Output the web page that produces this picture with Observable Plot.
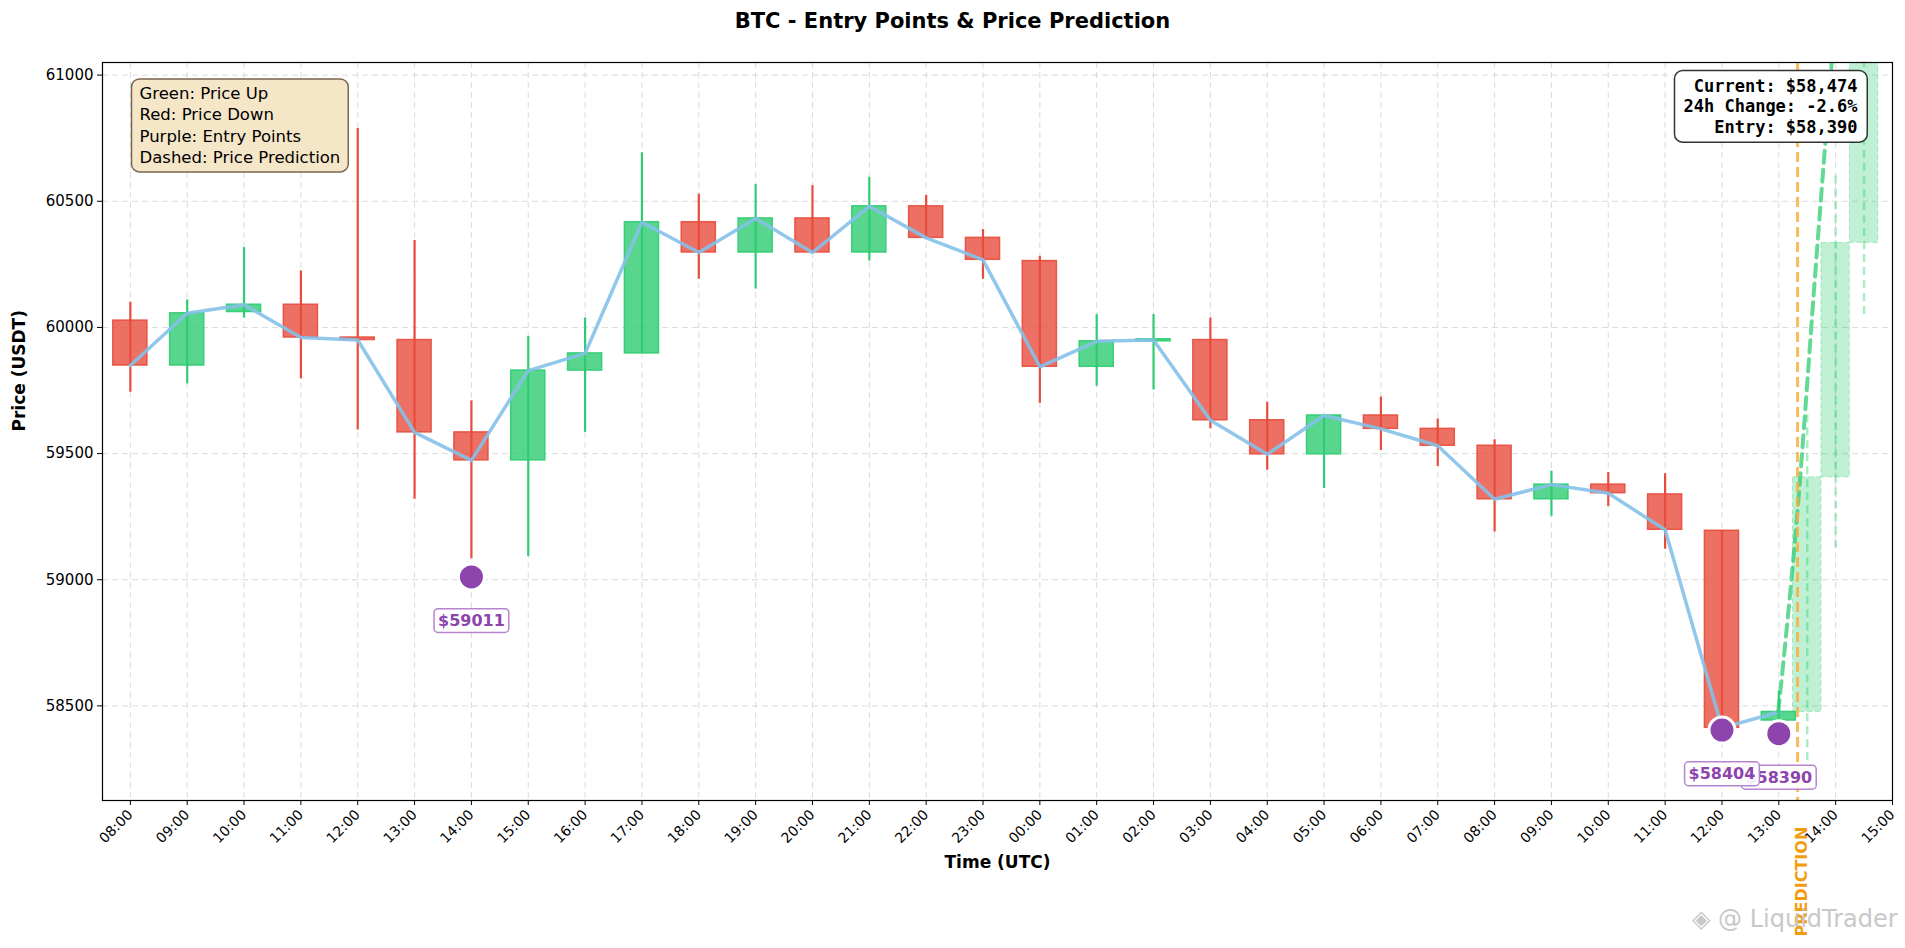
<!DOCTYPE html>
<html><head><meta charset="utf-8">
<script src="https://cdn.jsdelivr.net/npm/d3@7"></script>
<script src="https://cdn.jsdelivr.net/npm/@observablehq/plot@0.6"></script>
<style>
body{margin:0;background:#fff;font-family:"DejaVu Sans",sans-serif;}
#wrap{position:relative;width:1905px;height:948px;}
#title{position:absolute;top:9px;left:0;width:1905px;text-align:center;font-weight:bold;font-size:21px;color:#000;}
#wm{position:absolute;left:1692px;top:905px;font-size:24px;color:#c8c8c8;}
</style></head><body>
<div id="wrap"><div id="title">BTC - Entry Points &amp; Price Prediction</div><div id="chart"></div><div id="wm">◈ @ LiquidTrader</div></div>
<script>
const timeLabels = ["08:00","09:00","10:00","11:00","12:00","13:00","14:00","15:00","16:00","17:00","18:00","19:00","20:00","21:00","22:00","23:00","00:00","01:00","02:00","03:00","04:00","05:00","06:00","07:00","08:00","09:00","10:00","11:00","12:00","13:00","14:00","15:00"];
const opens  = [60027,59849,60061,60090,59960,59950,59584,59473,59829,59897,60417,60297,60432,60297,60480,60355,60263,59844,59945,59950,59632,59497,59651,59598,59531,59319,59377,59338,59194,58442];
const closes = [59849,60056,60090,59960,59950,59584,59473,59829,59897,60417,60297,60432,60297,60480,60355,60268,59844,59945,59950,59632,59497,59651,59598,59531,59319,59377,59343,59198,58413,58476];
const highs  = [60100,60109,60316,60224,60788,60345,59709,59964,60037,60692,60528,60566,60562,60595,60523,60388,60282,60051,60051,60037,59704,59651,59724,59637,59555,59430,59425,59420,59194,58558];
const lows   = [59743,59776,60037,59796,59593,59319,59083,59092,59584,59897,60191,60152,60297,60263,60355,60191,59699,59767,59752,59598,59434,59362,59512,59449,59189,59251,59290,59121,58413,58442];
const predX = [29.5,30.0,30.5];
const predOpen = [58476,59406,60335];
const predClose = [59406,60335,61300];
const predHigh = [59666,60620,61300];
const predLow = [58283,59126,60051];
const predLineX = [28.99,29.31,29.68,29.93,30.1];
const predLineY = [58476,59223,60330,61048,61500];
const entryX = [6,28,29];
const entryY = [59011,58404,58390];
const predictionStart = 29.33;

const candles = opens.map((o,i)=>({i,o,c:closes[i],h:highs[i],l:lows[i],up:closes[i]>=o}));
const preds = predX.map((x,i)=>({x,o:predOpen[i],c:predClose[i],h:predHigh[i],l:predLow[i]}));
const predLine = predLineX.map((x,i)=>({x,y:predLineY[i]}));
const entries = entryX.map((x,i)=>({x,y:entryY[i],label:"$"+entryY[i]}));
const G="#2ecc71", R="#e74c3c", P="#8e44ad";

const chart = Plot.plot({
  width:1905, height:948,
  marginLeft:102, marginRight:13, marginTop:62, marginBottom:148,
  style:{fontFamily:"DejaVu Sans", fontSize:"13px", color:"#000"},
  x:{domain:[-0.49,31], type:"linear"},
  y:{domain:[58125,61050]},
  marks:[
    Plot.gridY(d3.range(58500,61001,500),{stroke:"#ccc",strokeOpacity:0.7,strokeDasharray:"6,4"}),
    Plot.gridX(d3.range(0,32),{stroke:"#ccc",strokeOpacity:0.7,strokeDasharray:"6,4"}),
    Plot.axisY(d3.range(58500,61001,500),{tickSize:5,label:null,fontSize:15,tickFormat:d=>String(d)}),
    Plot.axisX(d3.range(0,32),{tickSize:5,tickRotate:-45,label:null,fontSize:14,tickFormat:i=>timeLabels[i]}),
    Plot.ruleX(candles,{x:"i",y1:"l",y2:"h",stroke:d=>d.up?G:R,strokeWidth:2.2}),
    Plot.rect(candles,{x1:d=>d.i-0.3,x2:d=>d.i+0.3,y1:"o",y2:d=>Math.abs(d.c-d.o)<8?d.o+8:d.c,fill:d=>d.up?G:R,fillOpacity:0.8,stroke:d=>d.up?G:R,strokeWidth:1.5,strokeOpacity:0.9}),
    Plot.line(candles,{x:"i",y:"c",stroke:"#85c1e9",strokeWidth:3.5,strokeOpacity:0.9}),
    Plot.ruleX(preds,{x:"x",y1:"l",y2:"h",stroke:G,strokeOpacity:0.4,strokeWidth:2.5,strokeDasharray:"8,5",clip:true}),
    Plot.rect(preds,{x1:d=>d.x-0.25,x2:d=>d.x+0.25,y1:"o",y2:"c",fill:G,fillOpacity:0.3,stroke:G,strokeOpacity:0.35,strokeDasharray:"5,3",clip:true}),
    Plot.line(predLine,{x:"x",y:"y",stroke:G,strokeOpacity:0.75,strokeWidth:4,strokeDasharray:"12,7",curve:"monotone-x",clip:true}),
    Plot.ruleX([predictionStart],{stroke:"#f5b041",strokeWidth:3,strokeOpacity:0.85,strokeDasharray:"10,5"}),
    Plot.dot(entries,{x:"x",y:"y",r:13,fill:P,stroke:"white",strokeWidth:3}),
    Plot.text(entries.slice().reverse(),{x:"x",y:"y",text:"label",dy:44,fill:P,fontWeight:"bold",fontSize:16,className:"entry-lbl"}),
    Plot.frame({stroke:"#000",strokeWidth:1.2}),
    Plot.text(["Green: Price Up\nRed: Price Down\nPurple: Entry Points\nDashed: Price Prediction"],{frameAnchor:"top-left",dx:37,dy:21,lineAnchor:"top",textAnchor:"start",fontSize:16.5,lineHeight:1.3,fill:"#000",className:"legend-box"}),
    Plot.text(["Current: $58,474\n24h Change: -2.6%\nEntry: $58,390"],{frameAnchor:"top-right",dx:-35,dy:15,lineAnchor:"top",textAnchor:"end",fontSize:17,fontWeight:"bold",fontFamily:"DejaVu Sans Mono",lineHeight:1.2,fill:"#000",className:"info-box"}),
    Plot.text(["PREDICTION"],{x:29.5,frameAnchor:"bottom",dy:136,rotate:-90,textAnchor:"start",fill:"#f39c12",fontWeight:"bold",fontSize:16}),
    Plot.text(["Price (USDT)"],{frameAnchor:"left",dx:-83,rotate:-90,fontWeight:"bold",fontSize:17,fill:"#000"}),
    Plot.text(["Time (UTC)"],{frameAnchor:"bottom",dy:67,fontWeight:"bold",fontSize:17,fill:"#000"})
  ]
});
document.getElementById("chart").appendChild(chart);
function boxify(cls,fill,stroke,pad,rx,opac){
  chart.querySelectorAll("g."+cls+" text").forEach(t=>{
    const b=t.getBBox();
    const r=document.createElementNS("http://www.w3.org/2000/svg","rect");
    r.setAttribute("x",b.x-pad);r.setAttribute("y",b.y-pad*0.6);
    r.setAttribute("width",b.width+2*pad);r.setAttribute("height",b.height+pad*1.2);
    r.setAttribute("rx",rx);r.setAttribute("fill",fill);r.setAttribute("stroke",stroke);
    r.setAttribute("stroke-width",1.5);r.setAttribute("fill-opacity",opac);
    const tr=t.getAttribute("transform");if(tr)r.setAttribute("transform",tr);
    t.parentNode.insertBefore(r,t);
  });
}
boxify("entry-lbl","white","#b784cf",4,4,0.9);
boxify("legend-box","#f5e6c8","#7a6650",8,8,1);
boxify("info-box","white","#333",9,8,0.95);
</script>
</body></html>
